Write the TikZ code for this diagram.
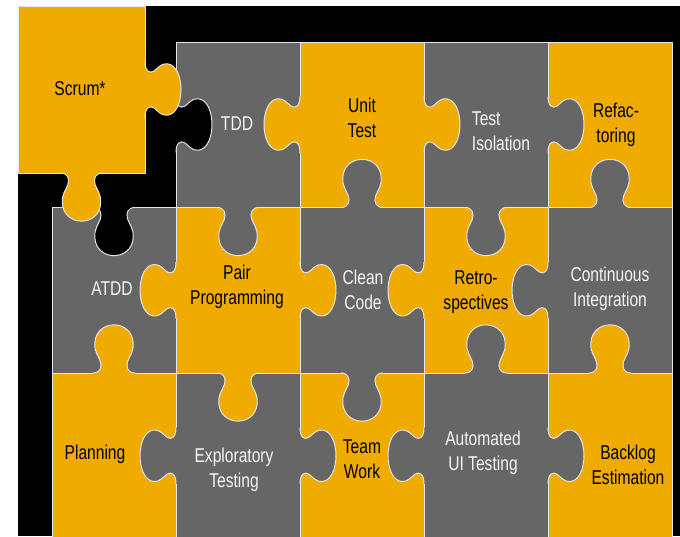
\documentclass[tikz,border=0pt]{standalone}
\usepackage{fontspec}
\setmainfont{Liberation Sans}[FakeStretch=0.78]
\definecolor{pgold}{HTML}{F0AB00}
\definecolor{pgray}{HTML}{666666}
\definecolor{pline}{HTML}{E6E6E6}
\definecolor{ptextw}{HTML}{F4F4F4}
\tikzset{
  tabu/.style={x={(124pt,0pt)}, y={(0pt,166pt)}},
  tabd/.style={x={(124pt,0pt)}, y={(0pt,-166pt)}},
  tabl/.style={x={(0pt,166pt)}, y={(-124pt,0pt)}},
  tabr/.style={x={(0pt,166pt)}, y={(124pt,0pt)}},
  knobq/.style={insert path={.. controls (-0.11,0) and (-0.095,0.035) .. (-0.11,0.07)
     .. controls (-0.125,0.10) and (-0.16,0.13) .. (-0.155,0.18)
     .. controls (-0.15,0.25) and (-0.08,0.29) .. (0,0.29)
     .. controls (0.08,0.29) and (0.15,0.25) .. (0.155,0.18)
     .. controls (0.16,0.13) and (0.125,0.10) .. (0.11,0.07)
     .. controls (0.095,0.035) and (0.11,0) .. (0.17,0)}},
  edge/.style={draw=pline, line width=1pt, line join=round},
  lbl/.style={font=\fontsize{20}{24.5}\selectfont, align=center, inner sep=0pt},
  lblk/.style={lbl, text=black},
  lblw/.style={lbl, text=ptextw},
}
\newcommand\knob[4]{%
  \begin{scope}[shift={(#1,#2)}, tab#3]
    \fill[#4] (0.17,-0.02) -- (-0.17,-0.02) -- (-0.17,0) [knobq] -- cycle;
    \draw[edge] (-0.17,0) [knobq];
  \end{scope}}
\begin{document}
\begin{tikzpicture}[x=1pt,y=-1pt]
\useasboundingbox (0,0) rectangle (680,536);
\clip (0,0) rectangle (680,536);
\fill[black] (18,6) rectangle (680,536);
% grid pieces
\path[edge, fill=pgray] (176,42) rectangle (300,207.5);
\path[edge, fill=pgold] (300,42) rectangle (424,207.5);
\path[edge, fill=pgray] (424,42) rectangle (548,207.5);
\path[edge, fill=pgold] (548,42) rectangle (672,207.5);
\path[edge, fill=pgray] (52,207.5) rectangle (176,373);
\path[edge, fill=pgold] (176,207.5) rectangle (300,373);
\path[edge, fill=pgray] (300,207.5) rectangle (424,373);
\path[edge, fill=pgold] (424,207.5) rectangle (548,373);
\path[edge, fill=pgray] (548,207.5) rectangle (672,373);
\path[edge, fill=pgold] (52,373) rectangle (176,545);
\path[edge, fill=pgray] (176,373) rectangle (300,545);
\path[edge, fill=pgold] (300,373) rectangle (424,545);
\path[edge, fill=pgray] (424,373) rectangle (548,545);
\path[edge, fill=pgold] (548,373) rectangle (672,545);
% horizontal-edge knobs
\knob{176}{124.5}{r}{black}
\knob{300}{124.5}{l}{pgold}
\knob{424}{124.5}{r}{pgold}
\knob{548}{124.5}{r}{pgray}
\knob{176}{290.25}{l}{pgold}
\knob{300}{290.25}{r}{pgold}
\knob{424}{290.25}{l}{pgold}
\knob{548}{290.25}{l}{pgray}
\knob{176}{455.75}{l}{pgray}
\knob{300}{455.75}{r}{pgray}
\knob{424}{455.75}{l}{pgray}
\knob{548}{455.75}{r}{pgray}
% vertical-edge knobs
\knob{114}{207.5}{d}{black}
\knob{238}{207.5}{d}{pgray}
\knob{362}{207.5}{u}{pgray}
\knob{486}{207.5}{d}{pgray}
\knob{610}{207.5}{u}{pgray}
\knob{114}{373}{u}{pgold}
\knob{238}{373}{d}{pgold}
\knob{362}{373}{d}{pgray}
\knob{486}{373}{u}{pgray}
\knob{610}{373}{u}{pgold}
% displaced Scrum piece
\path[edge, fill=pgold] (18,6) rectangle (145,173);
\knob{145}{89.5}{r}{pgold}
\knob{81.5}{173}{d}{pgold}
% labels
\node[lblk] (scrum) at (80,89) {Scrum*};
\node[lblw] (tdd) at (237,124) {TDD};
\node[lblk] (unit) at (362,118) {Unit\\Test};
\node[lblw, align=left] (iso) at (501,131) {Test\\Isolation};
\node[lblk] (refac) at (616,125) {Refac-\\toring};
\node[lblw] (atdd) at (112,289) {ATDD};
\node[lblk] (pair) at (237,287) {Pair\\Programming};
\node[lblw] (clean) at (363,290) {Clean\\Code};
\node[lblk] (retro) at (476,292) {Retro-\\spectives};
\node[lblw] (ci) at (610,289) {Continuous\\Integration};
\node[lblk] (plan) at (95,454) {Planning};
\node[lblw] (expl) at (234,470) {Exploratory\\Testing};
\node[lblk] (team) at (362,459) {Team\\Work};
\node[lblw] (auto) at (483,453) {Automated\\UI Testing};
\node[lblk] (backlog) at (628,465) {Backlog\\Estimation};
\end{tikzpicture}
\end{document}
